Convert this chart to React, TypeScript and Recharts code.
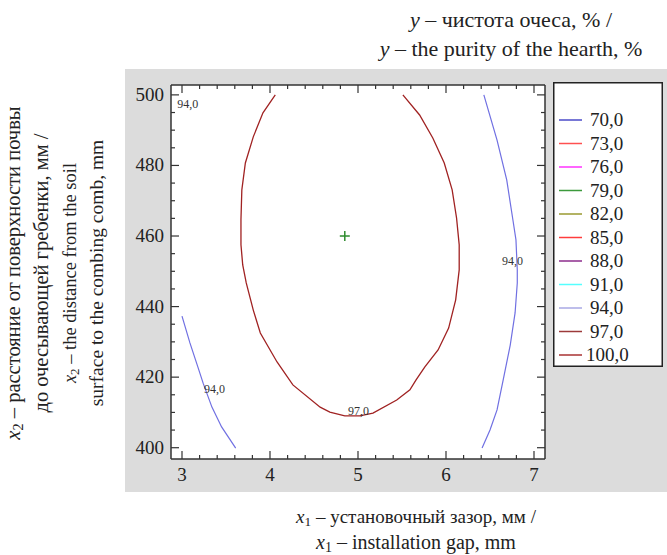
import React from "react";
import { ComposedChart, Scatter, XAxis, YAxis, CartesianGrid, Legend } from "recharts";

const serif = "'Liberation Serif', 'Times New Roman', serif";

// axis ticks (minor every 0.2 / 5, labels only on the majors)
const xTicks = [3, 3.2, 3.4, 3.6, 3.8, 4, 4.2, 4.4, 4.6, 4.8, 5, 5.2, 5.4, 5.6, 5.8, 6, 6.2, 6.4, 6.6, 6.8, 7];
const xLabels = [3, 4, 5, 6, 7];
const yTicks = [400, 405, 410, 415, 420, 425, 430, 435, 440, 445, 450, 455, 460, 465, 470, 475, 480, 485, 490, 495, 500];
const yLabels = [400, 420, 440, 460, 480, 500];

// legend levels
const levels = ["70,0", "73,0", "76,0", "79,0", "82,0", "85,0", "88,0", "91,0", "94,0", "97,0", "100,0"];
const levelColors = ["#4b4bc8", "#ff5050", "#ff33ff", "#3c9a3c", "#9a9a30", "#ff3c3c", "#8c2c8c", "#55ffff", "#a8a8e4", "#9c3a3a", "#a83232"];

// contour y = 97,0
const contour97 = [
  { x: 4.06, y: 500 }, { x: 3.92, y: 494.9 }, { x: 3.81, y: 488.1 }, { x: 3.72, y: 480.7 },
  { x: 3.68, y: 473.1 }, { x: 3.67, y: 464.6 }, { x: 3.67, y: 457.5 }, { x: 3.69, y: 451.8 },
  { x: 3.73, y: 446.7 }, { x: 3.78, y: 441.9 }, { x: 3.81, y: 439.0 }, { x: 3.89, y: 432.5 },
  { x: 4.08, y: 424.3 }, { x: 4.26, y: 417.8 }, { x: 4.57, y: 411.5 }, { x: 4.68, y: 410.1 },
  { x: 4.85, y: 409.0 }, { x: 5.02, y: 409.0 }, { x: 5.17, y: 409.8 }, { x: 5.44, y: 413.5 },
  { x: 5.59, y: 416.4 }, { x: 5.66, y: 419.2 }, { x: 5.76, y: 422.9 }, { x: 5.91, y: 427.7 },
  { x: 6.03, y: 433.9 }, { x: 6.11, y: 441.9 }, { x: 6.15, y: 450.4 }, { x: 6.15, y: 457.5 },
  { x: 6.12, y: 465.1 }, { x: 6.07, y: 473.1 }, { x: 5.98, y: 480.7 }, { x: 5.85, y: 487.8 },
  { x: 5.7, y: 494.3 }, { x: 5.51, y: 500 },
];

// contour y = 94,0 (two branches)
const contour94Left = [
  { x: 3.0, y: 437.3 }, { x: 3.09, y: 429.7 }, { x: 3.18, y: 422.9 }, { x: 3.24, y: 418.3 },
  { x: 3.34, y: 411.5 }, { x: 3.45, y: 405.9 }, { x: 3.61, y: 399.9 },
];
const contour94Right = [
  { x: 6.43, y: 500 }, { x: 6.58, y: 487.2 }, { x: 6.69, y: 475.9 }, { x: 6.76, y: 464.6 },
  { x: 6.795, y: 458.9 }, { x: 6.81, y: 450.4 }, { x: 6.81, y: 446.7 }, { x: 6.785, y: 438.2 },
  { x: 6.73, y: 429.1 }, { x: 6.65, y: 419.2 }, { x: 6.58, y: 410.7 }, { x: 6.5, y: 405.0 },
  { x: 6.41, y: 399.9 },
];

const optimum = [{ x: 4.85, y: 460 }];

const contourLabels = [
  { x: 2.945, y: 496.3, text: "94,0" },
  { x: 3.25, y: 415.5, text: "94,0" },
  { x: 6.636, y: 451.8, text: "94,0" },
  { x: 4.886, y: 409.3, text: "97,0" },
];

const axisStroke = "#333";

const NoDot = () => <g />;

const BottomTick = (p: any) => {
  const major = xLabels.includes(p.payload.value);
  return (
    <g>
      <line x1={p.x} x2={p.x} y1={p.y} y2={p.y - (major ? 8 : 4)} stroke={axisStroke} strokeWidth={1.2} />
      {major && (
        <text x={p.x} y={p.y + 22} textAnchor="middle" fontSize={19} fontFamily={serif} fill="#222">
          {p.payload.value}
        </text>
      )}
    </g>
  );
};

const TopTick = (p: any) => {
  const major = xLabels.includes(p.payload.value);
  return <line x1={p.x} x2={p.x} y1={p.y} y2={p.y + (major ? 8 : 4)} stroke={axisStroke} strokeWidth={1.2} />;
};

const LeftTick = (p: any) => {
  const major = yLabels.includes(p.payload.value);
  return (
    <g>
      <line x1={p.x} x2={p.x + (major ? 8 : 4)} y1={p.y} y2={p.y} stroke={axisStroke} strokeWidth={1.2} />
      {major && (
        <text x={p.x - 7} y={p.y + 6} textAnchor="end" fontSize={19} fontFamily={serif} fill="#222">
          {p.payload.value}
        </text>
      )}
    </g>
  );
};

const RightTick = (p: any) => {
  const major = yLabels.includes(p.payload.value);
  return <line x1={p.x} x2={p.x - (major ? 8 : 4)} y1={p.y} y2={p.y} stroke={axisStroke} strokeWidth={1.2} />;
};

const LegendBox = () => (
  <svg width={110} height={285} style={{ display: "block" }}>
    <rect x={0.75} y={0.75} width={108.5} height={283.5} fill="#fff" stroke="#222" strokeWidth={1.5} />
    {levels.map((lv, i) => (
      <g key={lv}>
        <line x1={6} x2={29} y1={38 + i * 23.5} y2={38 + i * 23.5} stroke={levelColors[i]} strokeWidth={1.5} />
        <text x={i === 10 ? 33 : 37} y={38 + i * 23.5 + 6} fontSize={19} fontFamily={serif} fill="#222">
          {lv}
        </text>
      </g>
    ))}
  </svg>
);

const Sub = ({ n }: { n: string }) => (
  <>
    <tspan fontStyle="italic">x</tspan>
    <tspan fontSize="0.7em" dy={3}>{n}</tspan>
    <tspan dy={-3}> – </tspan>
  </>
);

export default function App() {
  return (
    <div style={{ position: "absolute", left: 0, top: 0, width: 667, height: 555, background: "#fff", overflow: "hidden" }}>
      <div style={{ position: "absolute", left: 125, top: 69, width: 542, height: 423, background: "#dcdcdc" }} />
      <div style={{ position: "absolute", left: 0, top: 0 }}>
        <ComposedChart width={667} height={555} margin={{ top: 84, right: 121, bottom: 66, left: 131 }}>
          <CartesianGrid fill="#fff" horizontal={false} vertical={false} />
          <XAxis
            type="number" dataKey="x" domain={[2.875, 7.125]} allowDataOverflow ticks={xTicks} interval={0}
            tickSize={0} tickMargin={0} tickLine={false} height={30}
            axisLine={{ stroke: axisStroke, strokeWidth: 1.5 }} tick={(p: any) => <BottomTick {...p} />}
          />
          <XAxis
            xAxisId="top" orientation="top" type="number" dataKey="x" domain={[2.875, 7.125]} allowDataOverflow
            ticks={xTicks} interval={0} tickSize={0} tickMargin={0} tickLine={false} height={1}
            axisLine={{ stroke: axisStroke, strokeWidth: 1.5 }} tick={(p: any) => <TopTick {...p} />}
          />
          <YAxis
            type="number" dataKey="y" domain={[396.8, 502.8]} allowDataOverflow ticks={yTicks} interval={0}
            tickSize={0} tickMargin={0} tickLine={false} width={40}
            axisLine={{ stroke: axisStroke, strokeWidth: 1.5 }} tick={(p: any) => <LeftTick {...p} />}
          />
          <YAxis
            yAxisId="right" orientation="right" type="number" dataKey="y" domain={[396.8, 502.8]} allowDataOverflow
            ticks={yTicks} interval={0} tickSize={0} tickMargin={0} tickLine={false} width={1}
            axisLine={{ stroke: axisStroke, strokeWidth: 1.5 }} tick={(p: any) => <RightTick {...p} />}
          />
          <Legend
            layout="horizontal" verticalAlign="middle" align="center"
            wrapperStyle={{ position: "absolute", left: 553, top: 82, width: 110, height: 285 }}
            content={() => <LegendBox />}
          />
          <Scatter data={contour97} dataKey="y" line={{ stroke: "#a02222", strokeWidth: 1.3 }} lineType="joint" shape={NoDot} isAnimationActive={false} />
          <Scatter data={contour94Left} dataKey="y" line={{ stroke: "#7070e2", strokeWidth: 1.2 }} lineType="joint" shape={NoDot} isAnimationActive={false} />
          <Scatter data={contour94Right} dataKey="y" line={{ stroke: "#7070e2", strokeWidth: 1.2 }} lineType="joint" shape={NoDot} isAnimationActive={false} />
          <Scatter
            data={optimum} dataKey="y" isAnimationActive={false}
            shape={(p: any) => (
              <g stroke="#2e8b2e" strokeWidth={1.5}>
                <line x1={p.cx - 5} x2={p.cx + 5} y1={p.cy} y2={p.cy} />
                <line x1={p.cx} x2={p.cx} y1={p.cy - 5} y2={p.cy + 5} />
              </g>
            )}
          />
          <Scatter
            data={contourLabels} dataKey="y" isAnimationActive={false}
            shape={(p: any) => (
              <text x={p.cx} y={p.cy} fontSize={12} fontFamily={serif} fill="#333">
                {p.payload.text}
              </text>
            )}
          />
        </ComposedChart>
      </div>
      <svg width={667} height={555} style={{ position: "absolute", left: 0, top: 0, pointerEvents: "none" }} fontFamily={serif} fill="#222">
        <text x={511} y={27} textAnchor="middle" fontSize={22}>
          <tspan fontStyle="italic">y</tspan> – чистота очеса, % /
        </text>
        <text x={511} y={56} textAnchor="middle" fontSize={22}>
          <tspan fontStyle="italic">y</tspan> – the purity of the hearth, %
        </text>
        <text x={416} y={523} textAnchor="middle" fontSize={19}>
          <Sub n="1" />установочный зазор, мм /
        </text>
        <text x={416} y={549} textAnchor="middle" fontSize={20}>
          <Sub n="1" />installation gap, mm
        </text>
        <g>
          <text transform="translate(20,273) rotate(-90)" textAnchor="middle" fontSize={20.5}>
            <Sub n="2" />расстояние от поверхности почвы
          </text>
          <text transform="translate(48,273) rotate(-90)" textAnchor="middle" fontSize={20.5}>до очесывающей гребенки, мм /</text>
          <text transform="translate(76,273) rotate(-90)" textAnchor="middle" fontSize={18.5}>
            <Sub n="2" />the distance from the soil
          </text>
          <text transform="translate(103,273) rotate(-90)" textAnchor="middle" fontSize={19.5}>surface to the combing comb, mm</text>
        </g>
      </svg>
    </div>
  );
}
